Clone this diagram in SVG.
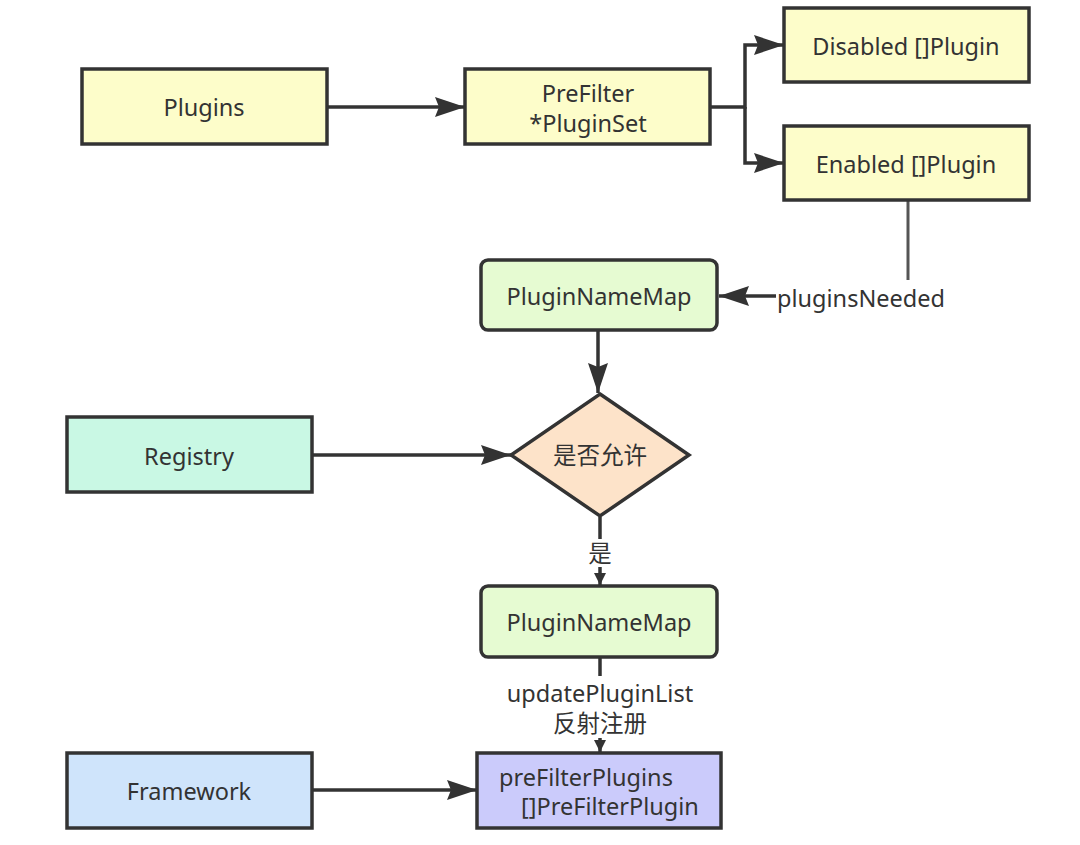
<svg xmlns="http://www.w3.org/2000/svg" width="1080" height="845" viewBox="0 0 1080 845">
<defs>
<marker id="big" viewBox="0 0 30 20" refX="30" refY="10" markerWidth="30" markerHeight="20" markerUnits="userSpaceOnUse" orient="auto">
<path d="M0,0 L30,10 L0,20 L4,10 z" fill="#333"/>
</marker>
<marker id="small" viewBox="0 0 12 12" refX="12" refY="6" markerWidth="12" markerHeight="12" markerUnits="userSpaceOnUse" orient="auto">
<path d="M0,0 L12,6 L0,12 z" fill="#333"/>
</marker>
</defs>
<style>
.box{stroke:#333;stroke-width:3.5}
.yellow{fill:#fdfdca}
.green{fill:#e6fbd2}
.mint{fill:#c9f8e4}
.blue{fill:#cfe4fb}
.purple{fill:#cbcbfb}
.peach{fill:#fde3c9}
.t{font-family:"Noto Sans","Noto Sans CJK SC",sans-serif;font-size:23.5px;fill:#333;text-anchor:middle;dominant-baseline:central}
.line{stroke:#333;stroke-width:3.5;fill:none}
.lbl{fill:#fff}
</style>
<rect width="1080" height="845" fill="#fff"/>
<g id="connectors">
<line class="line" x1="327" y1="107" x2="465" y2="107" marker-end="url(#big)"/>
<polyline class="line" points="710,107 745,107 745,45 784,45" marker-end="url(#big)"/>
<polyline class="line" points="745,107 745,163 784,163" marker-end="url(#big)"/>
<line x1="908" y1="200" x2="908" y2="280" stroke="#555" stroke-width="3"/>
<line class="line" x1="776" y1="296" x2="719" y2="296" marker-end="url(#big)"/>
<text class="t" x="861" y="298">pluginsNeeded</text>
<line class="line" x1="598" y1="331" x2="598" y2="393" marker-end="url(#big)"/>
<line class="line" x1="312" y1="455" x2="511" y2="455" marker-end="url(#big)"/>
<line class="line" x1="600" y1="517" x2="600" y2="585" marker-end="url(#small)"/>
<rect class="lbl" x="585" y="539" width="30" height="28"/>
<text class="t" x="600" y="553">是</text>
<line class="line" x1="600" y1="657" x2="600" y2="752" marker-end="url(#small)"/>
<rect class="lbl" x="500" y="676" width="200" height="62"/>
<text class="t" x="600" y="693">updatePluginList</text>
<text class="t" x="600" y="723">反射注册</text>
<line class="line" x1="312" y1="790" x2="477" y2="790" marker-end="url(#big)"/>
</g>
<g id="plugins">
<rect class="box yellow" x="82" y="69" width="245" height="75"/>
<text class="t" x="204" y="107">Plugins</text>
</g>
<g id="prefilter">
<rect class="box yellow" x="465" y="69" width="245" height="75"/>
<text class="t" x="588" y="93">PreFilter</text>
<text class="t" x="588" y="123">*PluginSet</text>
</g>
<g id="disabled">
<rect class="box yellow" x="784" y="8" width="245" height="74"/>
<text class="t" x="906" y="46">Disabled []Plugin</text>
</g>
<g id="enabled">
<rect class="box yellow" x="784" y="126" width="245" height="74"/>
<text class="t" x="906" y="164">Enabled []Plugin</text>
</g>
<g id="pluginNameMap1">
<rect class="box green" x="481" y="260" width="236" height="70" rx="7"/>
<text class="t" x="599" y="296">PluginNameMap</text>
</g>
<g id="decision">
<polygon class="box peach" points="600,394 689,455 600,516 511,455"/>
<text class="t" x="600" y="455">是否允许</text>
</g>
<g id="registry">
<rect class="box mint" x="67" y="417" width="245" height="75"/>
<text class="t" x="189" y="456">Registry</text>
</g>
<g id="pluginNameMap2">
<rect class="box green" x="481" y="586" width="236" height="71" rx="7"/>
<text class="t" x="599" y="622">PluginNameMap</text>
</g>
<g id="framework">
<rect class="box blue" x="67" y="753" width="245" height="75"/>
<text class="t" x="189" y="791">Framework</text>
</g>
<g id="prefilterplugins">
<rect class="box purple" x="477" y="753" width="244" height="75"/>
<text class="t" x="586" y="777">preFilterPlugins</text>
<text class="t" x="610" y="806">[]PreFilterPlugin</text>
</g>
</svg>
